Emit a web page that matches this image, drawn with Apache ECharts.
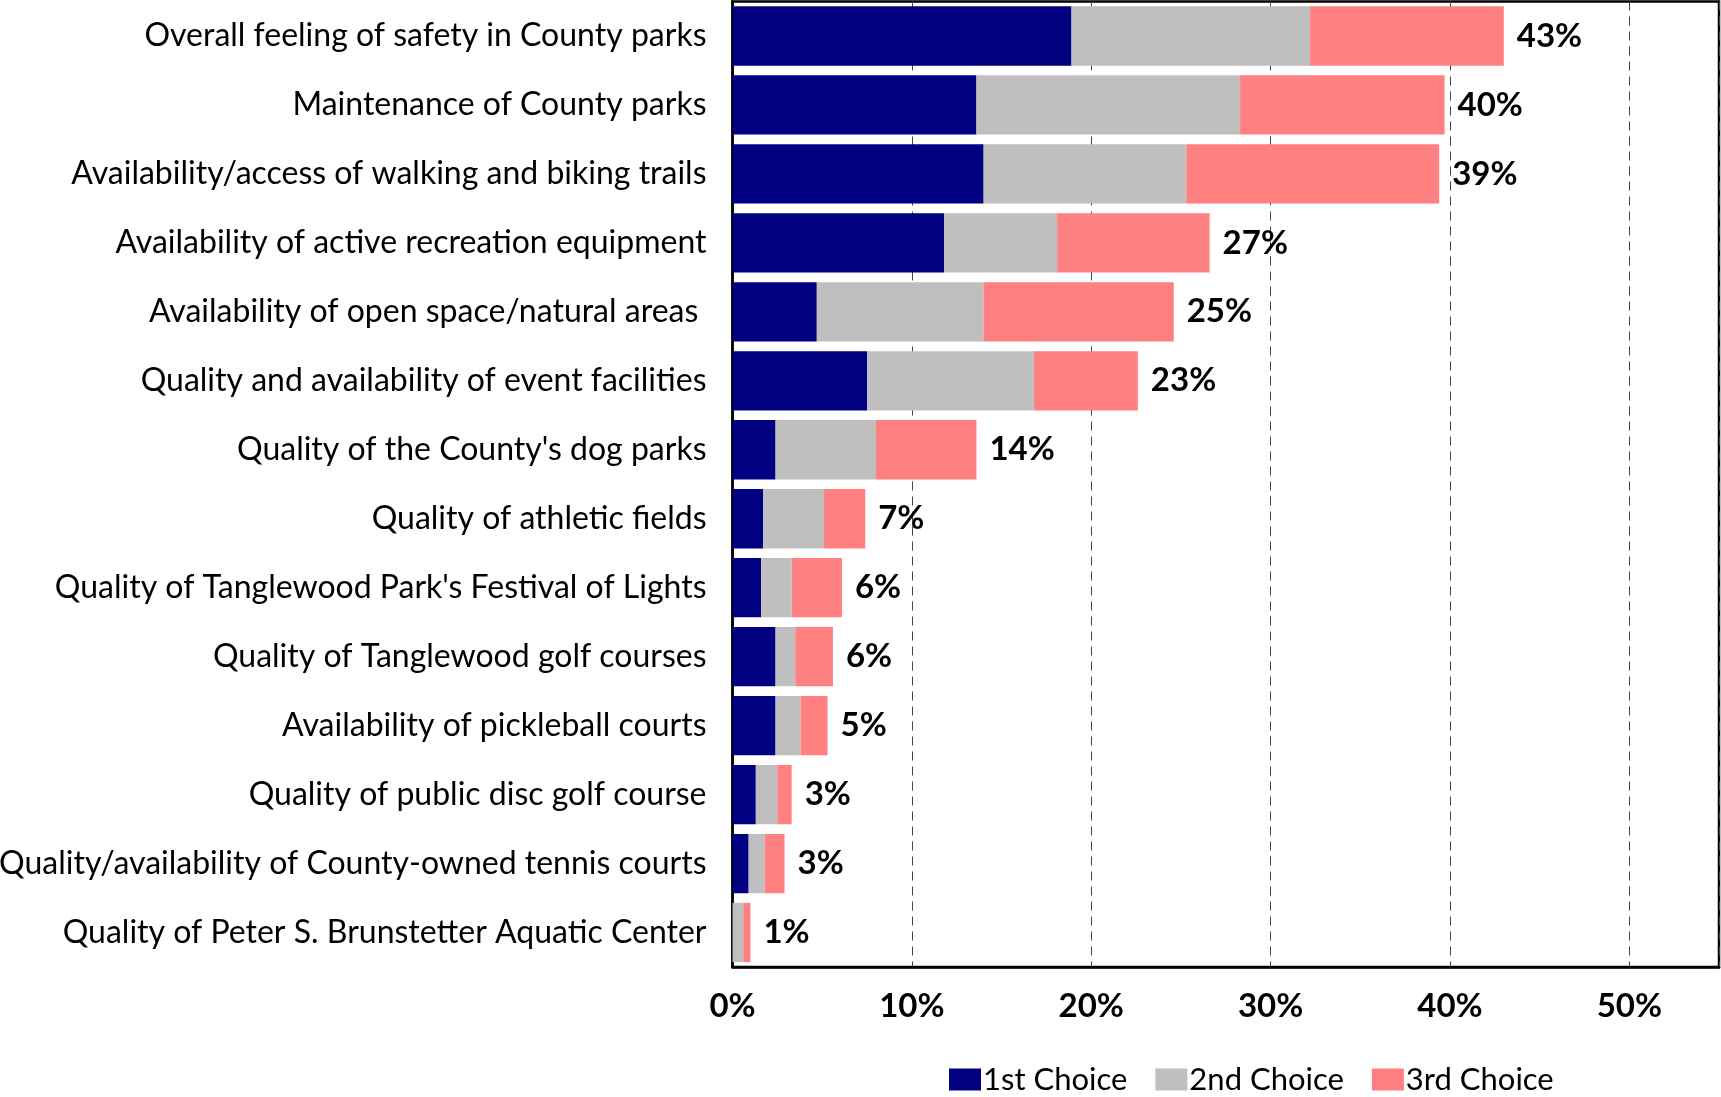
<!DOCTYPE html>
<html>
<head>
<meta charset="utf-8">
<style>
  html, body { margin: 0; padding: 0; background: #fff; }
  #chart { width: 1721px; height: 1097px; }
</style>
<script src="https://cdn.jsdelivr.net/npm/echarts@6/dist/echarts.min.js"></script>
</head>
<body>
<div id="chart"></div>
<script>
// Park features ranked by share of respondents choosing them (percent)
const categories = [
  'Overall feeling of safety in County parks',
  'Maintenance of County parks',
  'Availability/access of walking and biking trails',
  'Availability of active recreation equipment',
  'Availability of open space/natural areas ',
  'Quality and availability of event facilities',
  "Quality of the County's dog parks",
  'Quality of athletic fields',
  "Quality of Tanglewood Park's Festival of Lights",
  'Quality of Tanglewood golf courses',
  'Availability of pickleball courts',
  'Quality of public disc golf course',
  'Quality/availability of County-owned tennis courts',
  'Quality of Peter S. Brunstetter Aquatic Center'
];
const firstChoice  = [18.9, 13.6, 14.0, 11.8, 4.7, 7.5, 2.4, 1.7, 1.6, 2.4, 2.4, 1.3, 0.9, 0.0];
const secondChoice = [13.3, 14.7, 11.3,  6.3, 9.3, 9.3, 5.6, 3.4, 1.7, 1.1, 1.4, 1.2, 0.9, 0.6];
const thirdChoice  = [10.8, 11.4, 14.1,  8.5, 10.6, 5.8, 5.6, 2.3, 2.8, 2.1, 1.5, 0.8, 1.1, 0.4];
const seriesNames  = ['1st Choice', '2nd Choice', '3rd Choice'];
const seriesColors = ['#000080', '#BFBFBF', '#FF8080'];
const xTicks = [0, 10, 20, 30, 40, 50];

const totals = categories.map((_, i) => firstChoice[i] + secondChoice[i] + thirdChoice[i]);

const FONT = 'Lato';
const chart = echarts.init(document.getElementById('chart'), null, { renderer: 'canvas' });

const base = {
  type: 'bar',
  stack: 'choices',
  barCategoryGap: '14%',
  emphasis: { disabled: true }
};

chart.setOption({
  animation: false,
  backgroundColor: '#fff',
  textStyle: { fontFamily: FONT },
  grid: {
    left: 732.5, right: 2, top: 1.5, bottom: 130,
    containLabel: false,
    outerBoundsMode: 'none',
    show: true,
    borderColor: '#000',
    borderWidth: 2.5,
    backgroundColor: 'transparent'
  },
  legend: {
    top: 1059,
    left: 944,
    itemWidth: 32,
    itemHeight: 22,
    itemGap: 28,
    icon: 'rect',
    textStyle: { fontFamily: FONT, fontSize: 31, color: '#000', padding: [0, 0, 0, -3] },
    data: seriesNames
  },
  xAxis: {
    type: 'value',
    min: 0,
    max: 55,
    interval: 10,
    axisLine: { show: true, lineStyle: { color: '#000', width: 2.5 } },
    axisTick: { show: false },
    splitLine: { show: true, lineStyle: { color: '#444', width: 1, type: [9, 6] } },
    axisLabel: {
      margin: 23,
      fontFamily: FONT,
      fontSize: 33,
      fontWeight: 'bold',
      color: '#000',
      formatter: v => (xTicks.indexOf(v) >= 0 ? v + '%' : '')
    }
  },
  yAxis: {
    type: 'category',
    inverse: true,
    data: categories,
    axisLine: { show: true, lineStyle: { color: '#000', width: 2.5 } },
    axisTick: { show: false },
    axisLabel: {
      margin: 26,
      fontFamily: FONT,
      fontSize: 32,
      color: '#000'
    }
  },
  series: [
    Object.assign({}, base, {
      name: seriesNames[0], data: firstChoice, itemStyle: { color: seriesColors[0] }
    }),
    Object.assign({}, base, {
      name: seriesNames[1], data: secondChoice, itemStyle: { color: seriesColors[1] }
    }),
    Object.assign({}, base, {
      name: seriesNames[2], data: thirdChoice, itemStyle: { color: seriesColors[2] },
      label: {
        show: true,
        position: 'right',
        distance: 13,
        fontFamily: FONT,
        fontSize: 33,
        fontWeight: 'bold',
        color: '#000',
        formatter: p => Math.round(totals[p.dataIndex]) + '%'
      }
    })
  ]
});
</script>
</body>
</html>
